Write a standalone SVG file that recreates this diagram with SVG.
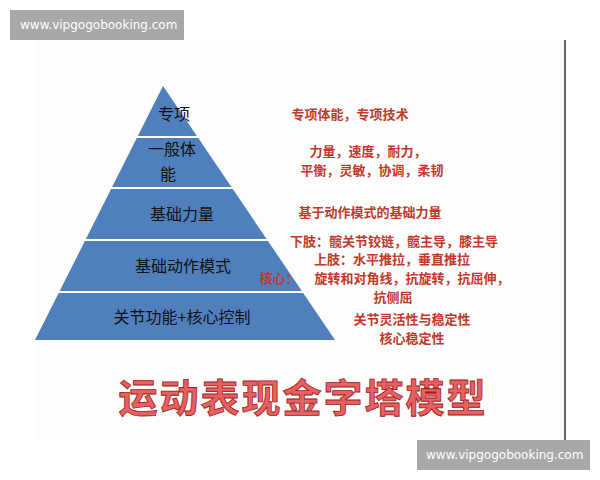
<svg xmlns="http://www.w3.org/2000/svg" width="600" height="480" viewBox="0 0 600 480">
<style>
.lv{font-family:"Noto Sans CJK SC","Liberation Sans",sans-serif;font-size:16px;fill:#111;text-anchor:middle}
.rd{font-family:"Noto Sans CJK SC",sans-serif;font-size:13px;fill:#c0392b;font-weight:bold;text-anchor:middle}
.wm{font-family:"DejaVu Sans",sans-serif;font-size:12px;fill:#fff}
.sep{stroke:#fff;stroke-width:2}
</style>
<rect width="600" height="480" fill="#fff"/>
<rect x="35" y="40" width="530" height="400" fill="#fdfdfd"/>
<line x1="565" y1="40" x2="565" y2="440" stroke="#333" stroke-width="1.5"/>
<g id="pyramid">
<polygon points="163,86 35,340 335,340" fill="#4f7fbd"/>
<g id="separators">
<line class="sep" x1="137" y1="137" x2="199" y2="137"/>
<line class="sep" x1="111" y1="188" x2="234" y2="188"/>
<line class="sep" x1="85" y1="240" x2="270" y2="240"/>
<line class="sep" x1="58" y1="292" x2="305" y2="292"/>
</g>
<g id="l1"><text class="lv" x="174" y="120">专项</text></g>
<g id="l2"><text class="lv" x="172" y="155">一般体</text><text class="lv" x="168" y="180">能</text></g>
<g id="l3"><text class="lv" x="182" y="220">基础力量</text></g>
<g id="l4"><text class="lv" x="183" y="272">基础动作模式</text></g>
<g id="l5"><text class="lv" x="182" y="323">关节功能+核心控制</text></g>
</g>
<g id="labels">
<text class="rd" x="350" y="119">专项体能，专项技术</text>
<text class="rd" x="368" y="156">力量，速度，耐力，</text>
<text class="rd" x="372" y="175">平衡，灵敏，协调，柔韧</text>
<text class="rd" x="370" y="217">基于动作模式的基础力量</text>
<text class="rd" x="394" y="246">下肢：髋关节铰链，髋主导，膝主导</text>
<text class="rd" x="392" y="264">上肢：水平推拉，垂直推拉</text>
<text class="rd" x="279" y="283">核心：</text>
<text class="rd" x="412" y="283">旋转和对角线，抗旋转，抗屈伸，</text>
<text class="rd" x="393" y="302">抗侧屈</text>
<text class="rd" x="412" y="324">关节灵活性与稳定性</text>
<text class="rd" x="412" y="343">核心稳定性</text>
</g>
<text x="303" y="412" font-family="Noto Sans CJK SC,sans-serif" font-size="39" font-weight="bold" fill="#e86060" stroke="#9b2020" stroke-width="0.8" text-anchor="middle" letter-spacing="2">运动表现金字塔模型</text>
<rect x="10" y="10" width="174" height="30" fill="#a8a8a8"/>
<text class="wm" x="20" y="29">www.vipgogobooking.com</text>
<rect x="417" y="440" width="173" height="30" fill="#a8a8a8"/>
<text class="wm" x="426" y="459">www.vipgogobooking.com</text>
</svg>
